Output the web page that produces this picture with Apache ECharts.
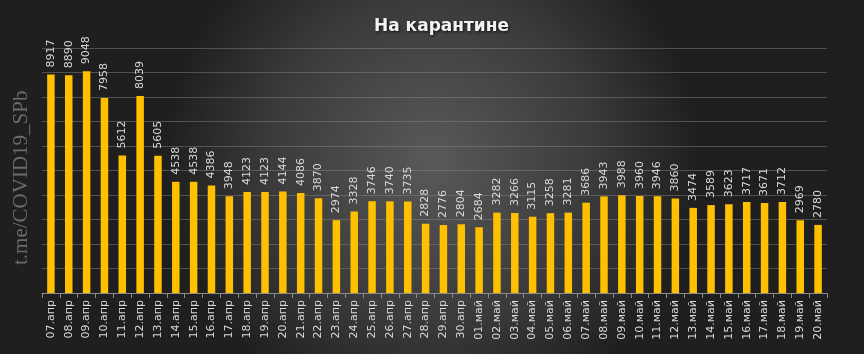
<!DOCTYPE html>
<html>
<head>
<meta charset="utf-8">
<style>
html,body{margin:0;padding:0;}
#chart{width:864px;height:354px;}
</style>
<script src="https://cdn.jsdelivr.net/npm/echarts@6/dist/echarts.min.js"></script>
</head>
<body>
<div id="chart"></div>
<script>
// даты и значения "На карантине"
var days = ['07.апр','08.апр','09.апр','10.апр','11.апр','12.апр','13.апр','14.апр','15.апр','16.апр',
    '17.апр','18.апр','19.апр','20.апр','21.апр','22.апр','23.апр','24.апр','25.апр','26.апр',
    '27.апр','28.апр','29.апр','30.апр','01.май','02.май','03.май','04.май','05.май','06.май',
    '07.май','08.май','09.май','10.май','11.май','12.май','13.май','14.май','15.май','16.май',
    '17.май','18.май','19.май','20.май'];
var quarantine = [8917,8890,9048,7958,5612,8039,5605,4538,4538,4386,
    3948,4123,4123,4144,4086,3870,2974,3328,3746,3740,
    3735,2828,2776,2804,2684,3282,3266,3115,3258,3281,
    3686,3943,3988,3960,3946,3860,3474,3589,3623,3717,
    3671,3712,2969,2780];
var titleText = 'На карантине';
var watermark = 't.me/COVID19_SPb';

var chart = echarts.init(document.getElementById('chart'));

var option = {
    backgroundColor: new echarts.graphic.RadialGradient(0.5, 0.45, 0.75, [
        {offset: 0, color: '#595959'},
        {offset: 0.6, color: '#3b3b3b'},
        {offset: 1, color: '#1f1f1f'}
    ]),
    animation: false,
    title: {
        text: titleText,
        left: 369,
        top: 13,
        textStyle: {
            color: '#f2f2f2',
            fontSize: 17,
            fontWeight: 'bold',
            fontFamily: 'DejaVu Sans',
            textShadowColor: 'rgba(0,0,0,0.8)',
            textShadowBlur: 3,
            textShadowOffsetX: 1,
            textShadowOffsetY: 1
        }
    },
    graphic: [{
        type: 'text',
        x: 11,
        y: 265,
        rotation: Math.PI / 2,
        style: {
            text: watermark,
            x: 0,
            y: 0,
            align: 'left',
            verticalAlign: 'top',
            fill: '#6b6b6b',
            font: '21px "Liberation Serif"'
        }
    }],
    grid: {
        left: 42,
        right: 37,
        top: 48,
        bottom: 61
    },
    xAxis: {
        type: 'category',
        data: days,
        axisLine: {lineStyle: {color: '#8c8c8c'}},
        axisTick: {show: true, length: 5, lineStyle: {color: '#8c8c8c'}},
        axisLabel: {
            rotate: 90,
            interval: 0,
            color: '#d9d9d9',
            fontSize: 11,
            fontFamily: 'DejaVu Sans',
            margin: 7
        }
    },
    yAxis: {
        type: 'value',
        min: 0,
        max: 10000,
        interval: 1000,
        axisLabel: {show: false},
        axisLine: {show: false},
        axisTick: {show: false},
        splitLine: {lineStyle: {color: 'rgba(140,140,140,0.45)', width: 1}}
    },
    series: [{
        type: 'bar',
        data: quarantine,
        barWidth: '42%',
        itemStyle: {color: '#ffc000'},
        label: {
            show: true,
            position: 'top',
            rotate: 90,
            align: 'left',
            verticalAlign: 'middle',
            distance: 7,
            color: '#d9d9d9',
            fontSize: 11,
            fontFamily: 'DejaVu Sans'
        }
    }]
};

chart.setOption(option);

window.addEventListener('resize', function () {
    chart.resize();
});
</script>
</body>
</html>
